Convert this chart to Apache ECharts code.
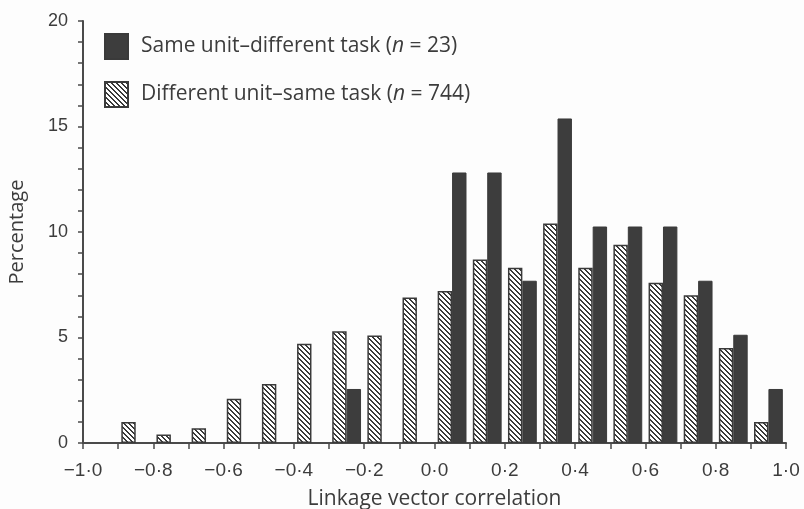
<!DOCTYPE html>
<html>
<head>
<meta charset="utf-8">
<script src="https://cdn.jsdelivr.net/npm/echarts@6/dist/echarts.min.js"></script>
<style>
html,body{margin:0;padding:0;background:#fdfdfd;}
#chart{width:804px;height:509px;}
</style>
</head>
<body>
<div id="chart"></div>
<script>
// Bins of width 0.1 from -1.0 to 1.0
var binStarts = [-1.0,-0.9,-0.8,-0.7,-0.6,-0.5,-0.4,-0.3,-0.2,-0.1,0.0,0.1,0.2,0.3,0.4,0.5,0.6,0.7,0.8,0.9];
var sameUnitDiffTask = ['-','-','-','-','-','-','-',2.56,'-','-',12.82,12.82,7.69,15.38,10.26,10.26,10.26,7.69,5.13,2.56];
var diffUnitSameTask = ['-',1.0,0.4,0.7,2.1,2.8,4.7,5.3,5.1,6.9,7.2,8.7,8.3,10.4,8.3,9.4,7.6,7.0,4.5,1.0];
var xTickLabels = ['−1·0','−0·8','−0·6','−0·4','−0·2','0·0','0·2','0·4','0·6','0·8','1·0'];
var yTickLabels = ['0','5','10','15','20'];

var categories = binStarts.map(function(v){ return v.toFixed(1); });

function makeHatch(){
  var s = 5, c = document.createElement('canvas');
  c.width = s; c.height = s;
  var ctx = c.getContext('2d');
  ctx.fillStyle = '#ffffff';
  ctx.fillRect(0,0,s,s);
  ctx.fillStyle = '#3a3a3a';
  for (var y=0;y<s;y++){
    for (var x=0;x<s;x++){
      var m = ((x - y) % s + s) % s;
      if (m < 2) ctx.fillRect(x,y,1,1);
    }
  }
  return c;
}
var hatch = makeHatch();

var chart = echarts.init(document.getElementById('chart'));
var textColor = '#3c3c3c';
var axisColor = '#4a4a4a';
var tickFont = '"Liberation Sans", sans-serif';
var titleFont = '"Open Sans", sans-serif';

chart.setOption({
  backgroundColor: '#fdfdfd',
  animation: false,
  grid: { left: 83, right: 18, top: 21, bottom: 66, containLabel: false, outerBoundsMode: 'none' },
  legend: {
    orient: 'vertical',
    left: 99, top: 28,
    icon: 'rect',
    itemWidth: 23, itemHeight: 25, itemGap: 21,
    data: ['Same unit–different task (n = 23)', 'Different unit–same task (n = 744)'],
    formatter: function(name){
      return name.indexOf('Same') === 0
        ? '{a|Same unit–different task (}{i|n}{a| = 23)}'
        : '{a|Different unit–same task (}{i|n}{a| = 744)}';
    },
    textStyle: {
      padding: [0,0,0,8],
      rich: {
        a: { fontSize: 21, color: textColor, fontFamily: titleFont },
        i: { fontSize: 21, color: textColor, fontStyle: 'italic', fontFamily: titleFont }
      }
    }
  },
  xAxis: [
    {
      type: 'category', data: categories, show: false, boundaryGap: true
    },
    {
      type: 'value', min: -1, max: 1, interval: 0.1, position: 'bottom',
      axisLine: { show: true, onZero: false, lineStyle: { color: axisColor, width: 2 } },
      axisTick: { show: true, length: 6, lineStyle: { color: axisColor, width: 1.5 } },
      splitLine: { show: false },
      axisLabel: {
        color: textColor, fontSize: 19, fontFamily: tickFont, margin: 18,
        formatter: function(v){
          var k = Math.round(v*10);
          if (k % 2 !== 0) return '';
          return xTickLabels[(k + 10) / 2];
        }
      },
      name: 'Linkage vector correlation', nameLocation: 'middle', nameGap: 46,
      nameTextStyle: { color: textColor, fontSize: 21, fontFamily: titleFont }
    }
  ],
  yAxis: {
    type: 'value', min: 0, max: 20, interval: 1,
    axisLine: { show: true, onZero: false, lineStyle: { color: axisColor, width: 2 } },
    axisTick: { show: true, length: 5, lineStyle: { color: axisColor, width: 1.5 } },
    splitLine: { show: false },
    axisLabel: {
      color: textColor, fontSize: 18, fontFamily: tickFont, margin: 15,
      formatter: function(v){
        return (Math.round(v) % 5 === 0) ? yTickLabels[Math.round(v)/5] : '';
      }
    },
    name: 'Percentage', nameLocation: 'middle', nameGap: 56, nameRotate: 90,
    nameTextStyle: { color: textColor, fontSize: 20, fontFamily: titleFont }
  },
  series: [
    {
      name: 'Different unit–same task (n = 744)', type: 'bar', xAxisIndex: 0,
      data: diffUnitSameTask, barWidth: '41%', barGap: '0%',
      itemStyle: { color: { image: hatch, repeat: 'repeat' }, borderColor: '#3a3a3a', borderWidth: 1.5 }
    },
    {
      name: 'Same unit–different task (n = 23)', type: 'bar', xAxisIndex: 0,
      data: sameUnitDiffTask, barWidth: '41%', barGap: '0%',
      itemStyle: { color: '#3d3d3d', borderColor: '#3a3a3a', borderWidth: 1 }
    }
  ]
});
</script>
</body>
</html>
